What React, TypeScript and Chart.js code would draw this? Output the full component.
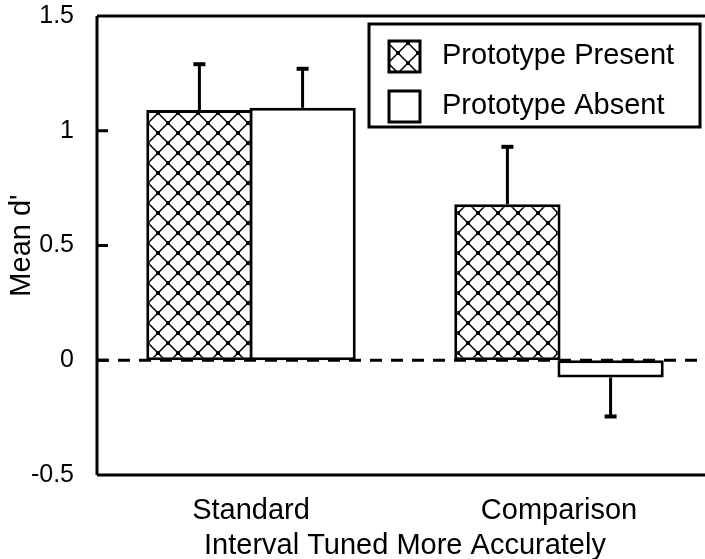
import React, { useEffect, useRef } from 'react';
import { Chart, registerables } from 'chart.js';

Chart.register(...registerables);

const categories = ['Standard', 'Comparison'];
const seriesLabels = ['Prototype Present', 'Prototype Absent'];
const presentMeans = [1.09, 0.68];
const absentMeans = [1.1, -0.075];
const presentErrors = [0.2, 0.25];
const absentErrors = [0.17, 0.17];
const yTicks = [-0.5, 0, 0.5, 1, 1.5];
const xTitle = 'Interval Tuned More Accurately';
const yTitle = "Mean d'";

const FONT = '"Liberation Sans", Arial, Helvetica, sans-serif';

function makeHatch(ctx: CanvasRenderingContext2D): CanvasPattern | string {
  const c = document.createElement('canvas');
  c.width = 20;
  c.height = 20;
  const g = c.getContext('2d');
  if (!g) return '#fff';
  g.fillStyle = '#fff';
  g.fillRect(0, 0, 20, 20);
  g.strokeStyle = '#000';
  g.lineWidth = 1.5;
  g.beginPath();
  g.moveTo(0, 0);
  g.lineTo(20, 20);
  g.moveTo(20, 0);
  g.lineTo(0, 20);
  g.stroke();
  g.fillStyle = '#000';
  const dots = [[0, 0], [20, 0], [0, 20], [20, 20], [10, 10]];
  for (const [x, y] of dots) g.fillRect(x - 2, y - 2, 4, 4);
  const p = ctx.createPattern(c, 'repeat');
  if (!p) return '#fff';
  try {
    p.setTransform(new DOMMatrix().translate(8, 5));
  } catch (e) {}
  return p;
}

export default function App() {
  const ref = useRef<HTMLCanvasElement | null>(null);

  useEffect(() => {
    document.body.style.margin = '0';
    const canvas = ref.current;
    if (!canvas) return;
    const ctx = canvas.getContext('2d');
    if (!ctx) return;
    const hatch = makeHatch(ctx);
    const errors = [presentErrors, absentErrors];

    const framePlugin = {
      id: 'frame',
      afterDatasetsDraw(chart: any) {
        const c = chart.ctx;
        const y = chart.scales.y;
        const a = chart.chartArea;
        c.save();
        c.strokeStyle = '#000';
        c.lineWidth = 3;
        c.setLineDash([12, 9]);
        const y0 = y.getPixelForValue(0);
        c.beginPath();
        c.moveTo(a.left, y0);
        c.lineTo(chart.width, y0);
        c.stroke();
        c.restore();
        c.save();
        c.strokeStyle = '#000';
        c.fillStyle = '#000';
        c.lineWidth = 3;
        chart.data.datasets.forEach((ds: any, i: number) => {
          const meta = chart.getDatasetMeta(i);
          meta.data.forEach((el: any, j: number) => {
            const v = ds.data[j];
            const e = errors[i][j];
            const end = v >= 0 ? v + e : v - e;
            const ya = y.getPixelForValue(v);
            const yb = y.getPixelForValue(end);
            c.beginPath();
            c.moveTo(el.x, ya);
            c.lineTo(el.x, yb);
            c.stroke();
            c.fillRect(el.x - 6, yb - 2, 12, 4);
          });
        });
        c.restore();
      },
      afterDraw(chart: any) {
        const c = chart.ctx;
        const y = chart.scales.y;
        const a = chart.chartArea;
        c.save();
        c.strokeStyle = '#000';
        c.lineWidth = 3;
        c.beginPath();
        c.moveTo(a.left, a.top);
        c.lineTo(chart.width, a.top);
        c.moveTo(a.left, a.top);
        c.lineTo(a.left, a.bottom);
        c.moveTo(a.left, a.bottom);
        c.lineTo(chart.width, a.bottom);
        for (const v of yTicks) {
          const py = y.getPixelForValue(v);
          c.moveTo(a.left, py);
          c.lineTo(a.left + 11, py);
        }
        c.stroke();
        const bx = a.left + 272;
        const by = a.top + 8;
        const bw = 331;
        const bh = 103;
        c.fillStyle = '#fff';
        c.fillRect(bx, by, bw, bh);
        c.strokeRect(bx, by, bw, bh);
        const fills = [hatch, '#fff'];
        c.font = '29px ' + FONT;
        c.textBaseline = 'middle';
        c.textAlign = 'left';
        seriesLabels.forEach((label, i) => {
          const cy = by + 32 + i * 50;
          c.fillStyle = fills[i] as any;
          c.fillRect(bx + 20, cy - 15, 31, 31);
          c.lineWidth = 3;
          c.strokeRect(bx + 20, cy - 15, 31, 31);
          c.fillStyle = '#000';
          c.fillText(label, bx + 73, cy);
        });
        c.restore();
      },
    };

    const chart = new Chart(canvas, {
      type: 'bar',
      data: {
        labels: categories,
        datasets: [
          {
            label: seriesLabels[0],
            data: presentMeans,
            backgroundColor: hatch as any,
            borderColor: '#000',
            borderWidth: 3,
            borderSkipped: false,
            categoryPercentage: 0.67,
            barPercentage: 1.03,
          },
          {
            label: seriesLabels[1],
            data: absentMeans,
            backgroundColor: '#fff',
            borderColor: '#000',
            borderWidth: 3,
            borderSkipped: false,
            categoryPercentage: 0.67,
            barPercentage: 1.03,
          },
        ],
      },
      options: {
        responsive: false,
        animation: false,
        devicePixelRatio: 1,
        layout: { padding: { top: 0, right: 7, left: 0, bottom: 0 } },
        plugins: { legend: { display: false }, tooltip: { enabled: false } },
        scales: {
          x: {
            grid: { display: false, drawTicks: false },
            border: { display: false },
            ticks: { color: '#000', font: { size: 29, family: FONT }, padding: 19 },
            title: { display: true, text: xTitle, color: '#000', font: { size: 29, family: FONT }, padding: 0 },
            afterFit: (s: any) => { s.height = 88; },
          },
          y: {
            min: -0.5,
            max: 1.5,
            grid: { display: false, drawTicks: false },
            border: { display: false },
            afterBuildTicks: (s: any) => { s.ticks = yTicks.map((v) => ({ value: v })); },
            ticks: { color: '#000', font: { size: 25, family: FONT }, padding: 23, callback: (v: any) => String(v) },
            title: { display: true, text: yTitle, color: '#000', font: { size: 29, family: FONT }, padding: { top: 5, bottom: 0 } },
            afterFit: (s: any) => { s.width = 97; },
          },
        },
      },
      plugins: [framePlugin],
    });
    return () => chart.destroy();
  }, []);

  return (
    <div style={{ width: 705, height: 559, overflow: 'hidden', position: 'relative', background: '#fff' }}>
      <canvas ref={ref} width={720} height={585} style={{ display: 'block', marginTop: -22 }} />
    </div>
  );
}
